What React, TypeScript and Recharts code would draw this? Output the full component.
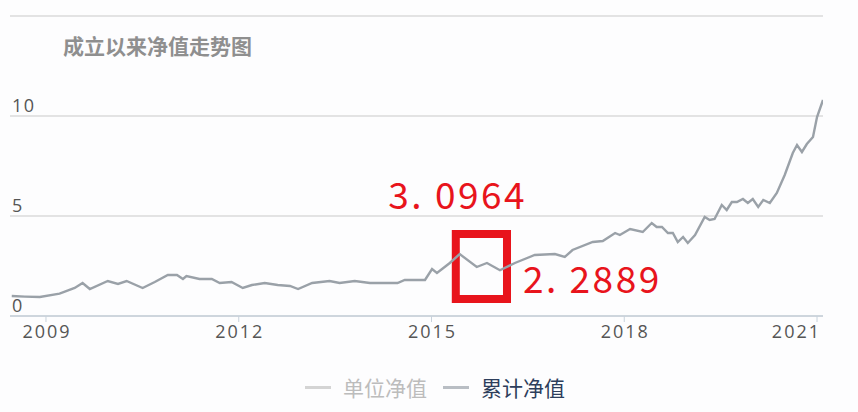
import React from 'react';
import { LineChart, Line, XAxis, YAxis, CartesianGrid, ReferenceArea, ReferenceDot } from 'recharts';

// 累计净值
const navDates = [
  '2008-06-20', '2008-09-03', '2008-11-27', '2009-03-19', '2009-06-13', '2009-07-28', '2009-09-07',
  '2009-12-18', '2010-02-14', '2010-04-04', '2010-07-04', '2010-09-11', '2010-11-24', '2011-01-15',
  '2011-02-18', '2011-03-10', '2011-05-23', '2011-08-01', '2011-09-15', '2011-11-21', '2012-01-24',
  '2012-03-16', '2012-05-28', '2012-08-10', '2012-10-19', '2012-12-04', '2013-02-22', '2013-06-01',
  '2013-07-28', '2013-10-22', '2014-01-16', '2014-06-22', '2014-08-02', '2014-11-25', '2015-01-04',
  '2015-02-01', '2015-04-15', '2015-06-10', '2015-09-15', '2015-11-12', '2016-01-25', '2016-04-19',
  '2016-08-10', '2016-12-03', '2017-01-28', '2017-03-13', '2017-07-06', '2017-09-01', '2017-11-10',
  '2017-12-07', '2018-02-03', '2018-04-16', '2018-06-06', '2018-07-04', '2018-08-03', '2018-09-06',
  '2018-10-04', '2018-11-01', '2018-12-01', '2018-12-28', '2019-02-07', '2019-04-03', '2019-05-01',
  '2019-05-29', '2019-07-09', '2019-08-06', '2019-09-04', '2019-10-03', '2019-11-06', '2019-12-04',
  '2020-01-01', '2020-02-01', '2020-03-01', '2020-04-07', '2020-05-17', '2020-07-01', '2020-08-16',
  '2020-09-09', '2020-10-07', '2020-11-04', '2020-12-09', '2021-01-01', '2021-02-04',
];
const accNav = [
  1.0, 0.97, 0.95, 1.12, 1.4, 1.65, 1.35,
  1.75, 1.6, 1.75, 1.4, 1.7, 2.05, 2.05,
  1.85, 2.0, 1.85, 1.85, 1.65, 1.7, 1.4,
  1.55, 1.65, 1.55, 1.5, 1.35, 1.65, 1.75,
  1.65, 1.75, 1.65, 1.65, 1.8, 1.8, 2.35,
  2.15, 2.65, 3.0964, 2.45, 2.65, 2.2889, 2.65,
  3.05, 3.1, 2.95, 3.3, 3.7, 3.75, 4.15,
  4.05, 4.35, 4.2, 4.65, 4.45, 4.45, 4.15,
  4.15, 3.7, 3.95, 3.65, 4.05, 4.95, 4.8,
  4.85, 5.55, 5.3, 5.7, 5.7, 5.85, 5.65,
  5.85, 5.45, 5.8, 5.65, 6.15, 7.05, 8.15,
  8.55, 8.2, 8.6, 8.95, 9.95, 10.8,
];

const yearTicks = [2009, 2012, 2015, 2018, 2021];
const valueTicks = [0, 5, 10, 15];
const legendItems = [
  { name: '单位净值', active: false },
  { name: '累计净值', active: true },
];

const peak = { date: '2015-06-10', value: 3.0964, label: '3. 0964' };
const trough = { date: '2016-01-25', value: 2.2889, label: '2. 2889' };
const box = { from: '2015-05-19', to: '2016-03-05', low: 0.85, high: 4.1 };

const RED = '#e8141c';
const CJK = "'Noto Sans CJK SC', 'Open Sans', sans-serif";
const NUM = "'Open Sans', 'DejaVu Sans', sans-serif";

const toYear = (d: string) => {
  const [y, m, day] = d.split('-').map(Number);
  const start = Date.UTC(y, 0, 1);
  const end = Date.UTC(y + 1, 0, 1);
  return y + (Date.UTC(y, m - 1, day) - start) / (end - start);
};

const data = navDates.map((d, i) => ({ t: toYear(d), acc: accNav[i] }));

const XTick = (props: any) => {
  const { x, y, payload } = props;
  const last = payload.value === yearTicks[yearTicks.length - 1];
  return (
    <text
      x={x + (last ? 4 : 1)}
      y={y + 14}
      textAnchor={last ? 'end' : 'middle'}
      fill="#555"
      fontSize={18}
      letterSpacing={2}
      fontFamily={NUM}
    >
      {payload.value}
    </text>
  );
};

const YTick = (props: any) => {
  const { y, payload } = props;
  if (payload.value === 15) return <g />;
  return (
    <text x={12} y={y - 4} textAnchor="start" fill="#555" fontSize={18} letterSpacing={1.5} fontFamily={NUM}>
      {payload.value}
    </text>
  );
};

const PeakLabel = (props: any) => {
  const { viewBox } = props;
  return (
    <text x={viewBox.x - 2} y={viewBox.y - 45} textAnchor="middle" fill={RED} fontSize={37} fontFamily={CJK} letterSpacing={2.5}>
      {peak.label}
    </text>
  );
};

const TroughLabel = (props: any) => {
  const { viewBox } = props;
  return (
    <text x={viewBox.x + 23} y={viewBox.y + 23} textAnchor="start" fill={RED} fontSize={37} fontFamily={CJK} letterSpacing={2.5}>
      {trough.label}
    </text>
  );
};

export default function App() {
  return (
    <div style={{ position: 'absolute', left: 0, top: 0, width: 858, height: 412, background: '#fdfdfe', overflow: 'hidden' }}>
      <div
        style={{
          position: 'absolute',
          left: 63,
          top: 31,
          fontSize: 21,
          fontWeight: 700,
          color: '#8f8f8f',
          fontFamily: CJK,
          lineHeight: '28px',
        }}
      >
        成立以来净值走势图
      </div>
      <LineChart width={858} height={412} data={data} margin={{ top: 16, right: 35, bottom: 66, left: 9 }}>
        <CartesianGrid vertical={false} stroke="#c9c9c9" />
        <XAxis
          dataKey="t"
          type="number"
          domain={[2008.44, 2021.093]}
          ticks={yearTicks}
          allowDataOverflow
          height={30}
          stroke="#b9c8d6"
          tickLine={{ stroke: '#c8d2dc' }}
          tickSize={6}
          tick={<XTick />}
        />
        <YAxis
          domain={[0, 15]}
          ticks={valueTicks}
          interval={0}
          width={1}
          axisLine={false}
          tickLine={false}
          tick={<YTick />}
        />
        <Line
          dataKey="acc"
          name="累计净值"
          type="linear"
          stroke="#9aa1a8"
          strokeWidth={2.4}
          dot={false}
          isAnimationActive={false}
        />
        <ReferenceArea
          x1={toYear(box.from)}
          x2={toYear(box.to)}
          y1={box.low}
          y2={box.high}
          fill="none"
          fillOpacity={0}
          stroke={RED}
          strokeWidth={8}
        />
        <ReferenceDot x={toYear(peak.date)} y={peak.value} r={0} stroke="none" fill="none" label={<PeakLabel />} />
        <ReferenceDot x={toYear(trough.date)} y={trough.value} r={0} stroke="none" fill="none" label={<TroughLabel />} />
      </LineChart>
      <div style={{ position: 'absolute', left: 305, top: 373, display: 'flex', alignItems: 'center', fontFamily: CJK, fontSize: 21 }}>
        {legendItems.map((item) => (
          <div key={item.name} style={{ display: 'flex', alignItems: 'center', marginRight: 16 }}>
            <span
              style={{
                display: 'inline-block',
                width: 26,
                height: 3,
                background: item.active ? '#b9bec4' : '#d4d4d4',
                marginRight: 12,
              }}
            />
            <span style={{ color: item.active ? '#2d3e5c' : '#bcbcbc', lineHeight: '28px' }}>{item.name}</span>
          </div>
        ))}
      </div>
    </div>
  );
}
